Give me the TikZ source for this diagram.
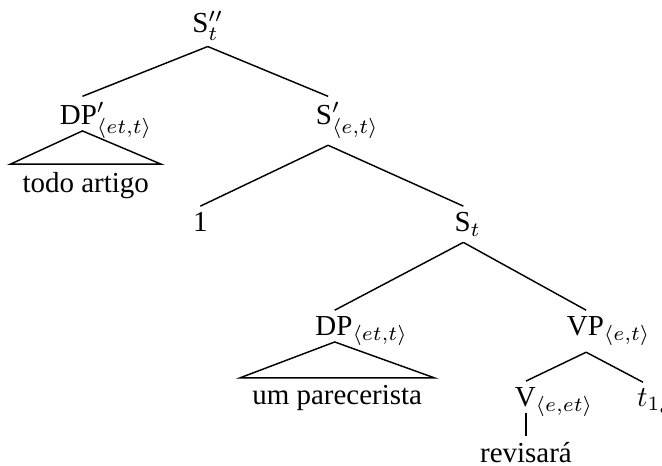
\documentclass[tikz,border=0pt]{standalone}
\usepackage{mathtools}
\usepackage{fontspec}
\setmainfont{Liberation Serif}

\begin{document}
\begin{tikzpicture}[scale=1.0,
    every node/.style={font=\normalsize},
    lbl/.style={anchor=base, inner sep=2pt},
    leaf/.style={anchor=base, inner xsep=4pt, inner ysep=2.5pt},
    br/.style={line width=0.5pt}]
  \useasboundingbox (0,0) rectangle (8.03,5.65);
  \node[lbl] (top) at (2.52,5.25) {S$''_{\mathrlap{t}}$};
  \node[lbl] (dpa) at (1.00,4.14) {DP\smash[b]{$'_{\mathrlap{\langle et,t\rangle}}$}};
  \node[leaf] (todo) at (1.04,3.32) {todo artigo};
  \node[lbl] (sa) at (3.98,4.14) {S$'_{\mathrlap{\langle e,t\rangle}}$};
  \node[lbl] (one) at (2.43,2.84) {1};
  \node[lbl] (st) at (5.62,2.84) {S$_{\mathrlap{t}}$};
  \node[lbl] (dpb) at (4.06,1.58) {DP\smash[b]{$_{\mathrlap{\langle et,t\rangle}}$}};
  \node[leaf] (um) at (4.09,0.74) {um parecerista};
  \node[lbl] (vp) at (7.11,1.58) {VP$_{\mathrlap{\langle e,t\rangle}}$};
  \node[lbl] (v) at (6.38,0.72) {V\smash[b]{$_{\mathrlap{\langle e,et\rangle}}$}};
  \node[lbl] (rev) at (6.38,0.04) {revisará};
  \node[lbl] (tr) at (7.80,0.72) {$t_{\mathrlap{1_{e}}}$};
  % branches
  \draw[br] (top.south) -- (dpa.north);
  \draw[br] (top.south) -- (sa.north);
  \draw[br] (dpa.south) -- (todo.north west) -- (todo.north east) -- cycle;
  \draw[br] (sa.south) -- (one.north);
  \draw[br] (sa.south) -- (st.north);
  \draw[br] (st.south) -- (dpb.north);
  \draw[br] (st.south) -- (vp.north);
  \draw[br] (dpb.south) -- (um.north west) -- (um.north east) -- cycle;
  \draw[br] (vp.south) -- (v.north);
  \draw[br] (vp.south) -- (tr.north);
  \draw[br] (v.south) -- (rev.north);
\end{tikzpicture}
\end{document}
